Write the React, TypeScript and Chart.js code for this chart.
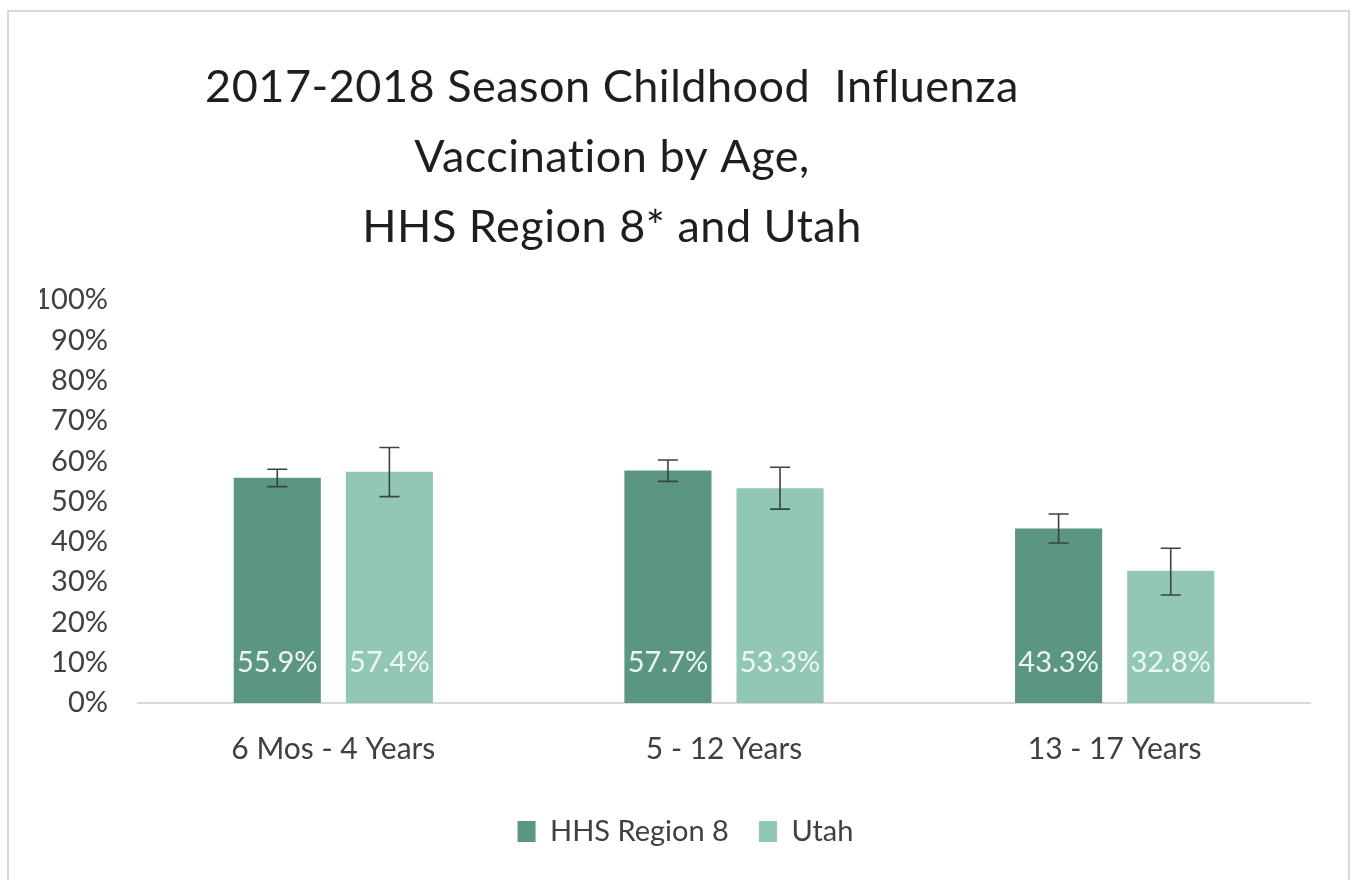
import React, { useEffect, useRef } from "react";
import { Chart, registerables } from "chart.js";

Chart.register(...registerables);

const titleLines = ["2017-2018 Season Childhood  Influenza", "Vaccination by Age,", "HHS Region 8* and Utah"];
const categories = ["6 Mos - 4 Years", "5 - 12 Years", "13 - 17 Years"];
const seriesNames = ["HHS Region 8", "Utah"];
const region8Values = [55.9, 57.7, 43.3];
const utahValues = [57.4, 53.3, 32.8];
const region8Low = [53.7, 55.0, 39.7];
const region8High = [58.0, 60.3, 46.9];
const utahLow = [51.2, 48.1, 26.8];
const utahHigh = [63.4, 58.5, 38.4];
const yTicks = [0, 10, 20, 30, 40, 50, 60, 70, 80, 90, 100];

const FONT = "Lato";
const DARK = "#5a9680";
const LIGHT = "#92c7b4";

const titlePlugin = {
  id: "customTitle",
  afterDraw(chart: any) {
    const ctx = chart.ctx;
    ctx.save();
    ctx.fillStyle = "#1e1e1e";
    ctx.font = `45px ${FONT}`;
    try {
      ctx.letterSpacing = "0.5px";
    } catch (e) {}
    ctx.textAlign = "center";
    ctx.textBaseline = "middle";
    const ys = [87, 157, 227];
    titleLines.forEach((t, i) => ctx.fillText(t, 612, ys[i]));
    ctx.restore();
  },
};

const errorBarPlugin = {
  id: "errorBars",
  afterDatasetsDraw(chart: any) {
    const ctx = chart.ctx;
    const y = chart.scales.y;
    ctx.save();
    ctx.strokeStyle = "#3a4440";
    ctx.lineWidth = 1.6;
    chart.data.datasets.forEach((ds: any, di: number) => {
      const meta = chart.getDatasetMeta(di);
      meta.data.forEach((bar: any, i: number) => {
        const yl = y.getPixelForValue(ds.errLow[i]);
        const yh = y.getPixelForValue(ds.errHigh[i]);
        const x = bar.x;
        ctx.beginPath();
        ctx.moveTo(x, yl);
        ctx.lineTo(x, yh);
        ctx.moveTo(x - 10, yl);
        ctx.lineTo(x + 10, yl);
        ctx.moveTo(x - 10, yh);
        ctx.lineTo(x + 10, yh);
        ctx.stroke();
      });
    });
    ctx.restore();
  },
};

const valueLabelPlugin = {
  id: "valueLabels",
  afterDatasetsDraw(chart: any) {
    const ctx = chart.ctx;
    const y = chart.scales.y;
    ctx.save();
    ctx.fillStyle = "#eef8f3";
    ctx.font = `29px ${FONT}`;
    ctx.textAlign = "center";
    ctx.textBaseline = "middle";
    chart.data.datasets.forEach((ds: any, di: number) => {
      const meta = chart.getDatasetMeta(di);
      meta.data.forEach((bar: any, i: number) => {
        ctx.fillText(ds.data[i].toFixed(1) + "%", bar.x, y.getPixelForValue(0) - 40);
      });
    });
    ctx.restore();
  },
};

export default function App() {
  const ref = useRef<HTMLCanvasElement | null>(null);
  useEffect(() => {
    if (!ref.current) return;
    const chart = new Chart(ref.current, {
      type: "bar",
      data: {
        labels: categories,
        datasets: [
          {
            label: seriesNames[0],
            data: region8Values,
            backgroundColor: DARK,
            errLow: region8Low,
            errHigh: region8High,
            categoryPercentage: 0.574,
            barPercentage: 0.777,
          } as any,
          {
            label: seriesNames[1],
            data: utahValues,
            backgroundColor: LIGHT,
            errLow: utahLow,
            errHigh: utahHigh,
            categoryPercentage: 0.574,
            barPercentage: 0.777,
          } as any,
        ],
      },
      options: {
        responsive: false,
        animation: false,
        layout: { padding: { left: 40, right: 23, top: 300, bottom: 24 } },
        plugins: {
          title: { display: false },
          tooltip: { enabled: false },
          legend: {
            position: "bottom",
            labels: {
              font: { family: FONT, size: 29 },
              color: "#404040",
              boxWidth: 18,
              boxHeight: 21,
              padding: 30,
            },
          },
        },
        scales: {
          x: {
            grid: { display: false, drawTicks: false },
            border: { display: true, color: "#d9d9d9", width: 2 },
            ticks: { font: { family: FONT, size: 30 }, color: "#404040", padding: 28 },
            afterFit: (s: any) => {
              s.height = 84;
            },
          },
          y: {
            min: 0,
            max: 100,
            grid: { display: false, drawTicks: false },
            border: { display: false },
            afterBuildTicks: (s: any) => {
              s.ticks = yTicks.map((v) => ({ value: v }));
            },
            ticks: {
              font: { family: FONT, size: 29 },
              color: "#404040",
              padding: 30,
              callback: (v: any) => v + "%",
            },
            afterFit: (s: any) => {
              s.width = 98;
            },
          },
          yRightSpace: {
            type: "linear",
            position: "right",
            display: true,
            grid: { display: false, drawTicks: false },
            border: { display: false },
            ticks: { display: false },
            afterFit: (s: any) => {
              s.width = 21;
            },
          },
        },
      },
      plugins: [titlePlugin, errorBarPlugin, valueLabelPlugin],
    });
    return () => chart.destroy();
  }, []);

  return (
    <div style={{ position: "fixed", left: 0, top: 0, width: 1354, height: 880, background: "#ffffff", overflow: "hidden" }}>
      <div
        style={{
          position: "absolute",
          left: 7,
          top: 10,
          width: 1343,
          height: 900,
          border: "2px solid #d9d9d9",
          boxSizing: "border-box",
        }}
      />
      <canvas ref={ref} width={1354} height={880} style={{ position: "absolute", left: 0, top: 0 }} />
    </div>
  );
}
